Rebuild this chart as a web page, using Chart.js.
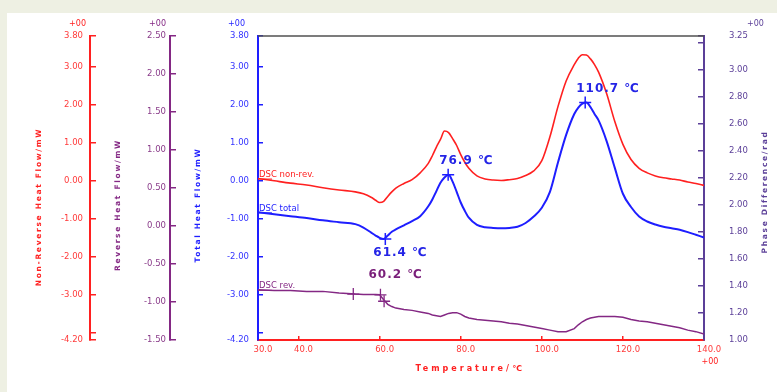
<!DOCTYPE html>
<html>
<head>
<meta charset="utf-8">
<script src="https://cdn.jsdelivr.net/npm/chart.js@4.4.0/dist/chart.umd.min.js"></script>
<style>
  html, body { margin: 0; padding: 0; background: #eef0e3; }
  canvas { display: block; }
</style>
</head>
<body>
<canvas id="dsc" width="777" height="392"></canvas>
<script>
// temperatures (°C) at which the curves were read
const temperature = [30, 34, 38, 42, 46, 50, 54, 56, 58, 59, 60, 61, 62, 63, 64, 66, 68, 70, 72, 73,
  74, 75, 76, 77, 78, 79, 80, 81, 82, 84, 86, 88, 90, 92, 94, 96, 98, 100, 102, 104,
  106, 108, 109, 110, 111, 112, 113, 114, 116, 118, 120, 122, 124, 126, 128, 130, 132, 134, 136, 138, 140];

// DSC non-rev. (mW)
const nonRev = [0.05, -0.01, -0.07, -0.12, -0.19, -0.25, -0.30, -0.35, -0.45, -0.52, -0.58, -0.55, -0.42, -0.30, -0.20, -0.08, 0.02, 0.20, 0.45, 0.65,
  0.88, 1.08, 1.30, 1.26, 1.10, 0.92, 0.68, 0.48, 0.32, 0.12, 0.04, 0.01, 0.00, 0.02, 0.05, 0.13, 0.25, 0.52, 1.15, 1.95,
  2.62, 3.05, 3.22, 3.31, 3.30, 3.20, 3.05, 2.85, 2.28, 1.55, 0.95, 0.55, 0.32, 0.20, 0.12, 0.07, 0.04, 0.01, -0.04, -0.08, -0.13];

// DSC total (mW)
const total = [-0.84, -0.89, -0.94, -0.99, -1.05, -1.10, -1.15, -1.24, -1.38, -1.45, -1.51, -1.54, -1.45, -1.35, -1.29, -1.18, -1.07, -0.94, -0.68, -0.50,
  -0.28, -0.06, 0.08, 0.15, -0.03, -0.30, -0.58, -0.80, -0.98, -1.17, -1.23, -1.25, -1.26, -1.25, -1.22, -1.12, -0.95, -0.72, -0.30, 0.48,
  1.20, 1.75, 1.92, 2.02, 2.05, 1.93, 1.75, 1.58, 1.03, 0.33, -0.35, -0.70, -0.95, -1.08, -1.16, -1.22, -1.26, -1.30, -1.36, -1.43, -1.50];

// DSC rev. (mW)
const rev = [-0.84, -0.85, -0.85, -0.86, -0.86, -0.88, -0.895, -0.90, -0.90, -0.90, -0.905, -0.97, -1.03, -1.06, -1.08, -1.10, -1.11, -1.13, -1.15, -1.17,
  -1.18, -1.19, -1.17, -1.15, -1.14, -1.14, -1.16, -1.19, -1.21, -1.23, -1.24, -1.25, -1.26, -1.28, -1.29, -1.31, -1.33, -1.35, -1.37, -1.39,
  -1.39, -1.35, -1.30, -1.26, -1.23, -1.21, -1.20, -1.19, -1.19, -1.19, -1.20, -1.23, -1.25, -1.26, -1.28, -1.30, -1.32, -1.34, -1.37, -1.39, -1.42];

// marked points
const peakTemps = [61.4, 76.9, 110.7];
const peakValues = [-1.54, 0.15, 2.05];
const glassTemps = [53.5, 60.2, 61.1];
const glassValues = [-0.895, -0.905, -0.99];

// axes
const tempTicks = [30, 40, 60, 80, 100, 120, 140];
const heatTicks = [-4.2, -4, -3, -2, -1, 0, 1, 2, 3, 3.8];
const heatTickLabels = ['-4.20', '', '-3.00', '-2.00', '-1.00', '0.00', '1.00', '2.00', '3.00', '3.80'];
const revTicks = [-1.5, -1, -0.5, 0, 0.5, 1, 1.5, 2, 2.5];
const revTickLabels = ['-1.50', '-1.00', '-0.50', '0.00', '0.50', '1.00', '1.50', '2.00', '2.50'];
const phaseTicks = [1.0, 1.2, 1.4, 1.6, 1.8, 2.0, 2.2, 2.4, 2.6, 2.8, 3.0, 3.2, 3.25];
const phaseTickLabels = ['1.00', '1.20', '1.40', '1.60', '1.80', '2.00', '2.20', '2.40', '2.60', '2.80', '3.00', '', '3.25'];

const RED = '#ff2020';
const BLUE = '#1e1eff';
const PURPLE = '#842884';
const PHASE = '#5b3f98';

const ctx = document.getElementById('dsc').getContext('2d');

function pts(xs, ys) {
  return xs.map((t, i) => ({ x: t, y: ys[i] }));
}

function yAxis(pos, weight, color, textColor, ticks, labels, width, tickLen, pad) {
  return {
    type: 'linear',
    position: pos,
    weight: weight,
    min: ticks[0],
    max: ticks[ticks.length - 1],
    border: { color: color, width: 2 },
    grid: { drawOnChartArea: false, color: color, lineWidth: 1.5, tickLength: tickLen },
    ticks: {
      color: textColor,
      padding: pad,
      autoSkip: false,
      font: { family: 'DejaVu Sans', size: 8.5 },
      callback: (v, i) => labels[i]
    },
    afterBuildTicks: s => { s.ticks = ticks.map(v => ({ value: v })); },
    afterFit: s => { s.width = width; }
  };
}

function label(c, str, x, y, font, color, align, spacing, rotate) {
  c.save();
  c.font = font;
  c.fillStyle = color;
  c.textAlign = align;
  c.textBaseline = 'middle';
  c.letterSpacing = spacing + 'px';
  c.translate(x, y);
  if (rotate) c.rotate(-Math.PI / 2);
  c.fillText(str, 0, 0);
  c.restore();
}

const decor = {
  id: 'decor',
  beforeDraw(chart) {
    const c = chart.ctx;
    c.save();
    c.fillStyle = '#eef0e3';
    c.fillRect(0, 0, chart.width, chart.height);
    c.fillStyle = '#ffffff';
    c.fillRect(7, 13, chart.width - 7, chart.height - 13);
    c.restore();
  },
  afterDraw(chart) {
    const c = chart.ctx;
    const a = chart.chartArea;
    const s = chart.scales;
    // frame on top
    c.save();
    c.strokeStyle = '#505050';
    c.lineWidth = 1.5;
    c.beginPath();
    c.moveTo(a.left, a.top);
    c.lineTo(a.right, a.top);
    c.stroke();
    c.restore();

    const small = '8px "DejaVu Sans"';
    const title = 'bold 7.5px "DejaVu Sans"';
    // exponents
    label(c, '+00', s.yRed.right - 4, a.top - 12, small, RED, 'right', 0);
    label(c, '+00', s.yPurple.right - 4, a.top - 12, small, PURPLE, 'right', 0);
    label(c, '+00', s.yBlue.right - 13, a.top - 12, small, BLUE, 'right', 0);
    label(c, '+00', s.yPhase.left + 43, a.top - 12, small, PHASE, 'left', 0);
    label(c, '+00', s.x.getPixelForValue(140) + 6, a.bottom + 22, small, RED, 'center', 0);

    // axis titles
    label(c, 'Non-Reverse Heat Flow/mW', s.yRed.left + 31, 207, title, RED, 'center', 1.7, true);
    label(c, 'Reverse Heat Flow/mW', s.yPurple.left + 28, 205, title, PURPLE, 'center', 1.7, true);
    label(c, 'Total Heat Flow/mW', s.yBlue.left + 28, 205, title, BLUE, 'center', 1.7, true);
    label(c, 'Phase Difference/rad', s.yPhase.left + 61, 192, title, PHASE, 'center', 1.7, true);
    label(c, 'Temperature/℃', (a.left + a.right) / 2 - 11, a.bottom + 29, 'bold 8px "DejaVu Sans"', RED, 'center', 3);

    // curve names at the start of each curve
    const nameFont = '8.5px "DejaVu Sans"';
    const names = [['DSC non-rev.', nonRev[0], s.yRed, RED], ['DSC total', total[0], s.yBlue, BLUE], ['DSC rev.', rev[0], s.yPurple, PURPLE]];
    names.forEach(([txt, v, sc, col]) => {
      const y = sc.getPixelForValue(v) - 4;
      label(c, txt, a.left + 1, y, nameFont, col, 'left', 0);
      c.save();
      c.strokeStyle = col;
      c.lineWidth = 1;
      c.beginPath();
      c.moveTo(a.left, y + 4.5);
      c.lineTo(a.left + 14, y + 4.5);
      c.stroke();
      c.restore();
    });

    // peak / transition temperatures
    const bold = 'bold 12px "DejaVu Sans"';
    const offs = [[-12, 14], [-9, -14], [-9, -14]];
    peakTemps.forEach((t, i) => {
      const x = s.x.getPixelForValue(t) + offs[i][0];
      const y = s.yBlue.getPixelForValue(peakValues[i]) + offs[i][1];
      label(c, t.toFixed(1) + ' ℃', x, y, bold, '#2424e6', 'left', 1);
    });
    label(c, glassTemps[1].toFixed(1) + ' ℃', s.x.getPixelForValue(glassTemps[1]) - 12,
      s.yPurple.getPixelForValue(glassValues[1]) - 20, bold, '#7a1f7a', 'left', 1);
  }
};

const chart = new Chart(ctx, {
  type: 'line',
  data: {
    datasets: [
      { label: 'DSC non-rev.', data: pts(temperature, nonRev), yAxisID: 'yRed', borderColor: RED, borderWidth: 1.6, cubicInterpolationMode: 'monotone' },
      { label: 'DSC total', data: pts(temperature, total), yAxisID: 'yBlue', borderColor: BLUE, borderWidth: 2, cubicInterpolationMode: 'monotone' },
      { label: 'DSC rev.', data: pts(temperature, rev), yAxisID: 'yPurple', borderColor: PURPLE, borderWidth: 1.5, tension: 0 },
      { label: 'peaks', data: pts(peakTemps, peakValues), yAxisID: 'yBlue', showLine: false, pointStyle: 'cross', pointRadius: 6, borderColor: BLUE, borderWidth: 1.5 },
      { label: 'glass', data: pts(glassTemps, glassValues), yAxisID: 'yPurple', showLine: false, pointStyle: 'cross', pointRadius: 6, borderColor: PURPLE, borderWidth: 1.3 }
    ]
  },
  options: {
    responsive: false,
    animation: false,
    devicePixelRatio: 1,
    layout: { padding: { left: 8, top: 28, right: 0, bottom: 0 } },
    elements: { point: { radius: 0 } },
    plugins: { legend: { display: false }, tooltip: { enabled: false } },
    scales: {
      x: {
        type: 'linear',
        position: 'bottom',
        min: 30,
        max: 140,
        border: { color: RED, width: 2 },
        grid: { drawOnChartArea: false, color: RED, lineWidth: 1.5, tickLength: -4 },
        ticks: {
          color: '#ff3a3a',
          padding: 9,
          labelOffset: 5,
          autoSkip: false,
          maxRotation: 0,
          font: { family: 'DejaVu Sans', size: 8.5 },
          callback: v => v.toFixed(1)
        },
        afterBuildTicks: s => { s.ticks = tempTicks.map(v => ({ value: v })); },
        afterFit: s => { s.height = 52; }
      },
      yBlue: yAxis('left', 1, BLUE, '#3434ff', heatTicks, heatTickLabels, 88, -5, 14),
      yPurple: yAxis('left', 2, PURPLE, '#8a3c8a', revTicks, revTickLabels, 80, -6, 10),
      yRed: yAxis('left', 3, RED, '#ff3a3a', heatTicks, heatTickLabels, 82, -6, 13),
      yPhase: yAxis('right', 1, PHASE, PHASE, phaseTicks, phaseTickLabels, 73, -6, 31)
    }
  },
  plugins: [decor]
});
</script>
</body>
</html>
